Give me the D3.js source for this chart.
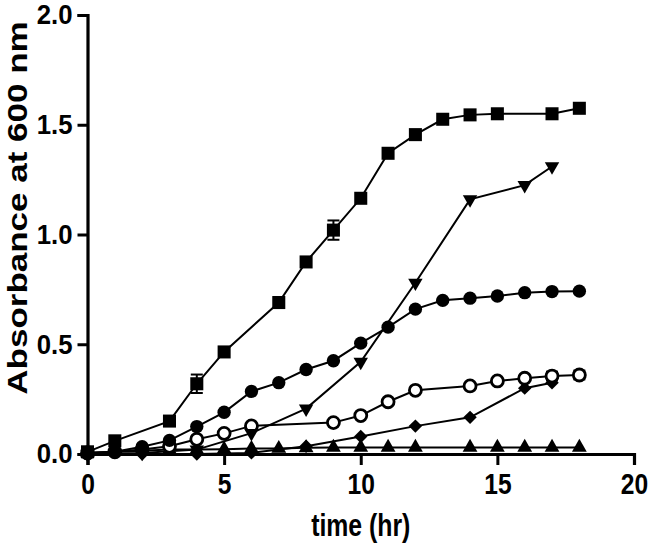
<!DOCTYPE html>
<html><head><meta charset="utf-8">
<script src="https://cdn.jsdelivr.net/npm/d3@7"></script>
<style>body{margin:0;background:#fff}svg{display:block}</style>
</head><body>
<svg id="c" width="650" height="548"></svg>
<script>
// ---- data ----
const xTicks = [0, 5, 10, 15, 20];
const yTicks = [0.0, 0.5, 1.0, 1.5, 2.0];
const xLabel = "time (hr)";
const yLabel = "Absorbance at 600 nm";

const squareT = [0,1,3,4,5,7,8,9,10,11,12,13,14,15,17,18];
const squareV = [0.01,0.06,0.15,0.32,0.465,0.69,0.875,1.02,1.165,1.37,1.455,1.525,1.545,1.55,1.55,1.575];
const squareE = [0,0,0,0.042,0,0,0,0.044,0,0,0,0,0,0,0,0];

const trDownT = [0,2,4,6,8,10,12,14,16,17];
const trDownV = [0.0,0.005,0.02,0.095,0.207,0.42,0.78,1.16,1.225,1.31];

const fCircT = [0,1,2,3,4,5,6,7,8,9,10,11,12,13,14,15,16,17,18];
const fCircV = [0.005,0.01,0.033,0.062,0.125,0.19,0.285,0.325,0.385,0.425,0.505,0.578,0.66,0.70,0.71,0.72,0.735,0.74,0.742];

const oCircT = [0,1,2,3,4,5,6,9,10,11,12,14,15,16,17,18];
const oCircV = [0.005,0.01,0.02,0.035,0.067,0.094,0.128,0.143,0.175,0.238,0.29,0.31,0.333,0.345,0.355,0.36];
const oCircE = [0,0,0,0,0,0,0,0,0,0,0,0,0,0,0.02,0.02];

const diamT = [0,2,4,6,8,10,12,14,16,17];
const diamV = [0.0,0.0,0.0,0.005,0.035,0.08,0.127,0.167,0.30,0.325];

const trUpT = [0,1,2,3,4,5,6,7,8,9,10,11,12,14,15,16,17,18];
const trUpV = [0.005,0.01,0.015,0.02,0.02,0.022,0.025,0.025,0.028,0.03,0.03,0.03,0.03,0.03,0.03,0.03,0.03,0.03];

// ---- chart ----
const svg = d3.select("#c");
const x = d3.scaleLinear().domain([0, 20]).range([87.5, 634]);
const y = d3.scaleLinear().domain([0, 2]).range([454, 15]);
const FONT = "'Liberation Sans', Arial, Helvetica, sans-serif";

const zip = (T, V, E) => T.map((t, i) => ({t, v: V[i], e: E ? E[i] : 0}));
const line = d3.line().x(d => x(d.t)).y(d => y(d.v));

const series = [
  {data: zip(diamT, diamV), sym: d3.symbolDiamond2, size: 115, fill: "#000", rot: 0},
  {data: zip(trUpT, trUpV), sym: d3.symbolTriangle, size: 95, fill: "#000", rot: 0},
  {data: zip(oCircT, oCircV, oCircE), sym: "open"},
  {data: zip(fCircT, fCircV), sym: d3.symbolCircle, size: 140, fill: "#000", rot: 0},
  {data: zip(trDownT, trDownV), sym: d3.symbolTriangle, size: 90, fill: "#000", rot: 180},
  {data: zip(squareT, squareV, squareE), sym: d3.symbolSquare, size: 170, fill: "#000", rot: 0},
];

series.forEach(s => {
  svg.append("path").datum(s.data).attr("d", line)
    .attr("fill", "none").attr("stroke", "#000").attr("stroke-width", 2);
});

series.forEach(s => {
  const g = svg.append("g");
  s.data.filter(d => d.e > 0).forEach(d => {
    const cx = x(d.t), y1 = y(d.v + d.e), y2 = y(d.v - d.e);
    g.append("line").attr("x1", cx).attr("x2", cx).attr("y1", y1).attr("y2", y2).attr("stroke", "#000").attr("stroke-width", 2);
    [y1, y2].forEach(yy => g.append("line").attr("x1", cx - 6).attr("x2", cx + 6).attr("y1", yy).attr("y2", yy).attr("stroke", "#000").attr("stroke-width", 2));
  });
  if (s.sym === "open") {
    g.selectAll("circle").data(s.data).join("circle")
      .attr("cx", d => x(d.t)).attr("cy", d => y(d.v)).attr("r", 6)
      .attr("fill", "#fff").attr("stroke", "#000").attr("stroke-width", 2.8);
  } else {
    g.selectAll("path").data(s.data).join("path")
      .attr("d", d3.symbol().type(s.sym).size(s.size))
      .attr("transform", d => `translate(${x(d.t)},${y(d.v)}) rotate(${s.rot})`)
      .attr("fill", s.fill);
  }
});

// axes
const xAxis = svg.append("g").attr("transform", `translate(0,${y(0)})`)
  .call(d3.axisBottom(x).tickValues(xTicks).tickSize(11).tickPadding(8).tickFormat(d3.format("d")));
const yAxis = svg.append("g").attr("transform", `translate(${x(0)},0)`)
  .call(d3.axisLeft(y).tickValues(yTicks).tickSize(10).tickPadding(4).tickFormat(d3.format(".1f")));
[xAxis, yAxis].forEach(a => {
  a.select(".domain").attr("stroke-width", 3.2).attr("stroke", "#000");
  a.selectAll(".tick line").attr("stroke-width", 3).attr("stroke", "#000");
  a.selectAll(".tick text").attr("font-family", FONT).attr("font-weight", "bold")
    .attr("fill", "#000");
});
xAxis.selectAll(".tick text").attr("font-size", 30)
  .attr("transform", "scale(0.82,1)").attr("dy", "0.71em");
yAxis.selectAll(".tick text").attr("font-size", 28)
  .attr("transform", "scale(0.92,1)").attr("x", -15 / 0.92);

svg.append("text").attr("transform", `translate(${x(10)},536) scale(0.8,1)`)
  .attr("text-anchor", "middle").attr("font-family", FONT).attr("font-weight", "bold")
  .attr("font-size", 31).text(xLabel);

svg.append("text").attr("transform", `translate(27,208) rotate(-90) scale(1,0.78)`)
  .attr("text-anchor", "middle").attr("font-family", FONT).attr("font-weight", "bold")
  .attr("font-size", 35).text(yLabel);
</script>
</body></html>
